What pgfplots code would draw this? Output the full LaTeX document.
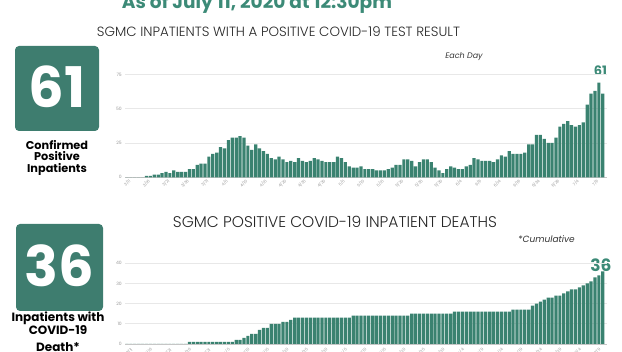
\documentclass[border=0pt]{standalone}
\usepackage{fontspec}
\usepackage{pgfplots}
\pgfplotsset{compat=1.18}
\setmainfont{Poppins}
\IfFontExistsTF{Poppins Light}{\newfontfamily\lightfont{Poppins Light}}{\newfontfamily\lightfont{Poppins}}
\definecolor{barc}{HTML}{3A8270}
\definecolor{boxc}{HTML}{3E7D6F}
\definecolor{titc}{HTML}{3C8A77}
\pgfplotsset{
  chartstyle/.style={
    x=3.9pt, xmin=-0.5, xmax=123.1, ymin=0,
    anchor=south west, clip=false,
    axis line style={draw=none},
    major tick length=0pt,
    ymajorgrids, grid style={gray!18, line width=0.6pt},
    extra y tick style={grid style={gray!45, line width=0.9pt}},
    extra y tick labels={},
    ybar, bar width=3.2pt, bar shift=0pt,
    /pgf/number format/assume math mode=true,
    yticklabel style={font=\fontsize{4.5}{5}\selectfont, text=gray!80, inner sep=0pt, xshift=-3pt},
    xticklabel style={font=\fontsize{4}{4.5}\selectfont, text=gray!80, inner sep=0pt, rotate=45, anchor=east, yshift=-4pt},
    xtick={0,5,...,120},
    xticklabels={3/11,3/16,3/21,3/26,3/31,4/5,4/10,4/15,4/20,4/25,4/30,5/5,5/10,5/15,5/20,5/25,5/30,6/4,6/9,6/14,6/19,6/24,6/29,7/4,7/9},
  }
}
\begin{document}
\begin{tikzpicture}
\path[use as bounding box] (0,0) rectangle (622pt,352pt);
\clip (0,0) rectangle (622pt,352pt);
% main title
\node[anchor=base, text=titc, font=\bfseries, inner sep=0pt] at (257pt,343.7pt) {\resizebox{270pt}{!}{As of July 11, 2020 at 12:30pm}};
% chart titles
\node[anchor=base, inner sep=0pt, text=black!85] at (278.5pt,315.3pt) {\resizebox{363pt}{!}{\lightfont SGMC INPATIENTS WITH A POSITIVE COVID-19 TEST RESULT}};
\node[anchor=base, inner sep=0pt, text=black!85] at (335pt,124pt) {\resizebox{324pt}{!}{\lightfont SGMC POSITIVE COVID-19 INPATIENT DEATHS}};
% notes
\node[anchor=base, inner sep=0pt, text=black!80, font=\itshape\fontsize{8}{8}\selectfont] at (464pt,293pt) {Each Day};
\node[anchor=base, inner sep=0pt, text=black!80, font=\itshape\fontsize{9}{9}\selectfont] at (546.5pt,109.3pt) {*Cumulative};
% boxes
\fill[boxc, rounded corners=4pt] (15pt,221pt) rectangle (99pt,306pt);
\node[anchor=base, inner sep=0pt, text=white, font=\bfseries\fontsize{56}{56}\selectfont] at (57pt,244pt) {61};
\node[anchor=base, inner sep=0pt, font=\bfseries\fontsize{11.3}{11}\selectfont] at (57pt,202.5pt) {Confirmed};
\node[anchor=base, inner sep=0pt, font=\bfseries\fontsize{11.3}{11}\selectfont] at (57pt,191pt) {Positive};
\node[anchor=base, inner sep=0pt, font=\bfseries\fontsize{11.3}{11}\selectfont] at (57pt,179.5pt) {Inpatients};
\fill[boxc, rounded corners=4pt] (16pt,41pt) rectangle (103pt,128pt);
\node[anchor=base, inner sep=0pt, text=white, font=\bfseries\fontsize{56}{56}\selectfont] at (59.5pt,65pt) {36};
\node[anchor=base, inner sep=0pt, font=\bfseries\fontsize{12}{12}\selectfont] at (58pt,30pt) {Inpatients with};
\node[anchor=base, inner sep=0pt, font=\bfseries\fontsize{12}{12}\selectfont] at (58pt,17pt) {COVID-19};
\node[anchor=base, inner sep=0pt, font=\bfseries\fontsize{12}{12}\selectfont] at (58pt,0pt) {Death*};
% value labels
\node[anchor=base, inner sep=0pt, text=titc, font=\bfseries\fontsize{13}{13}\selectfont] at (600.5pt,276pt) {61};
\node[anchor=base, inner sep=0pt, text=titc, font=\bfseries\fontsize{17}{17}\selectfont] at (601pt,80pt) {36};
% top chart
\begin{axis}[chartstyle, at={(125pt,174.7pt)}, y=1.372pt, ymax=75,
  ytick={0,25,50,75}, extra y ticks={0}]
\addplot[fill=barc, draw=none] coordinates {(0,0)(1,0)(2,0)(3,0)(4,0)(5,1)(6,1)(7,2)(8,2)(9,3)(10,4)(11,3)(12,5)(13,4)(14,4)(15,4)(16,6)(17,6)(18,9)(19,10)(20,10)(21,15)(22,17)(23,18)(24,22)(25,21)(26,27)(27,29)(28,29)(29,30)(30,29)(31,23)(32,20)(33,24)(34,21)(35,19)(36,17)(37,14)(38,13)(39,15)(40,13)(41,11)(42,12)(43,11)(44,14)(45,12)(46,11)(47,12)(48,14)(49,13)(50,12)(51,11)(52,11)(53,11)(54,15)(55,14)(56,11)(57,8)(58,7)(59,7)(60,8)(61,6)(62,6)(63,6)(64,5)(65,5)(66,5)(67,6)(68,7)(69,9)(70,9)(71,13)(72,13)(73,12)(74,8)(75,11)(76,13)(77,13)(78,11)(79,7)(80,5)(81,3)(82,6)(83,8)(84,7)(85,6)(86,6)(87,8)(88,9)(89,14)(90,13)(91,12)(92,12)(93,12)(94,11)(95,13)(96,16)(97,15)(98,19)(99,17)(100,17)(101,17)(102,18)(103,24)(104,24)(105,31)(106,31)(107,28)(108,25)(109,25)(110,29)(111,37)(112,39)(113,41)(114,38)(115,37)(116,38)(117,40)(118,53)(119,61)(120,63)(121,69)(122,61)};
\end{axis}
% bottom chart
\begin{axis}[chartstyle, at={(125pt,8pt)}, y=2.02pt, ymax=40,
  ytick={0,10,20,30,40}, extra y ticks={0},
  xticklabel style={yshift=-3pt}]
\addplot[fill=barc, draw=none] coordinates {(0,0)(1,0)(2,0)(3,0)(4,0)(5,0)(6,0)(7,0)(8,0)(9,0)(10,0)(11,0)(12,0)(13,0)(14,0)(15,0)(16,1)(17,1)(18,1)(19,1)(20,1)(21,1)(22,1)(23,1)(24,1)(25,1)(26,1)(27,1)(28,2)(29,2)(30,3)(31,4)(32,5)(33,5)(34,7)(35,8)(36,8)(37,10)(38,10)(39,10)(40,11)(41,11)(42,12)(43,13)(44,13)(45,13)(46,13)(47,13)(48,13)(49,13)(50,13)(51,13)(52,13)(53,13)(54,13)(55,13)(56,13)(57,13)(58,14)(59,14)(60,14)(61,14)(62,14)(63,14)(64,14)(65,14)(66,14)(67,14)(68,14)(69,14)(70,14)(71,14)(72,14)(73,15)(74,15)(75,15)(76,15)(77,15)(78,15)(79,15)(80,15)(81,15)(82,15)(83,15)(84,16)(85,16)(86,16)(87,16)(88,16)(89,16)(90,16)(91,16)(92,16)(93,16)(94,16)(95,16)(96,16)(97,16)(98,16)(99,17)(100,17)(101,17)(102,17)(103,17)(104,19)(105,20)(106,21)(107,22)(108,23)(109,23)(110,24)(111,24)(112,25)(113,26)(114,27)(115,27)(116,28)(117,29)(118,30)(119,31)(120,33)(121,34)(122,36)};
\end{axis}
\end{tikzpicture}
\end{document}
